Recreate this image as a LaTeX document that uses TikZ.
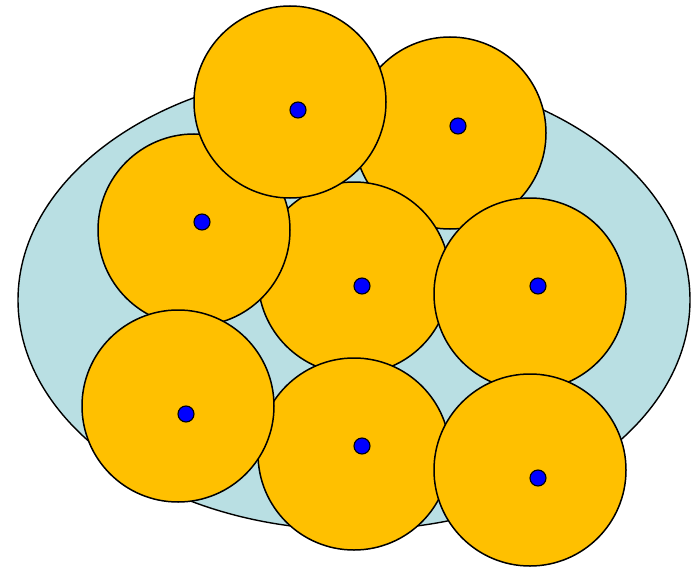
\documentclass[tikz,border=0pt]{standalone}
\definecolor{plate}{HTML}{B9DFE3}
\definecolor{gold}{HTML}{FFC000}
\definecolor{dotblue}{HTML}{0000FF}
\tikzset{
  platebox/.style={draw=black, line width=1.4pt, fill=plate},
  ball/.style={circle, draw=black, line width=1.5pt, fill=gold, minimum size=192pt, inner sep=0pt, outer sep=0pt},
  pin/.style={circle, draw=black, line width=1.1pt, fill=dotblue, minimum size=16pt, inner sep=0pt}
}
\begin{document}
\begin{tikzpicture}[x=1pt, y=-1pt]
\useasboundingbox (0,0) rectangle (698,567);
% plate
\draw[platebox] (354,300) ellipse [x radius=336, y radius=230];
% balls in stacking order
\node[ball] (b2) at (450,133) {};
\node[ball] (b4) at (354,278) {};
\node[ball] (b3) at (194,230) {};
\node[ball] (b1) at (290,102) {};
\node[ball] (b5) at (530,294) {};
\node[ball] (b7) at (354,454) {};
\node[ball] (b6) at (178,406) {};
\node[ball] (b8) at (530,470) {};
% centre dots
\node[pin] (p1) at (298,110) {};
\node[pin] (p2) at (458,126) {};
\node[pin] (p3) at (202,222) {};
\node[pin] (p4) at (362,286) {};
\node[pin] (p5) at (538,286) {};
\node[pin] (p6) at (186,414) {};
\node[pin] (p7) at (362,446) {};
\node[pin] (p8) at (538,478) {};
\end{tikzpicture}
\end{document}
